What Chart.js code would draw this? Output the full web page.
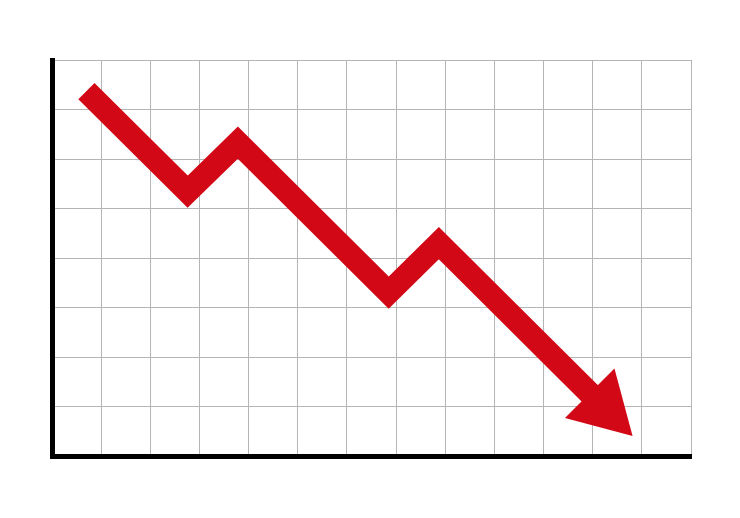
<!DOCTYPE html>
<html>
<head>
<meta charset="utf-8">
<script src="https://cdn.jsdelivr.net/npm/chart.js@4/dist/chart.umd.min.js"></script>
<style>
  html, body { margin: 0; padding: 0; background: #ffffff; }
  #c { display: block; }
</style>
</head>
<body>
<canvas id="c" width="740" height="518"></canvas>
<script>
// Data (grid units: 13 columns x 8 rows)
const xValues = [0.70, 2.76, 3.78, 6.85, 7.87, 11.23];
const yValues = [7.37, 5.34, 6.33, 3.30, 4.30, 0.98];
const xMax = 13;
const yMax = 8;

const points = xValues.map((x, i) => ({ x: x, y: yValues[i] }));
const red = '#d20816';

new Chart(document.getElementById('c'), {
  type: 'line',
  data: {
    datasets: [{
      data: points,
      borderColor: red,
      backgroundColor: red,
      borderWidth: 23,
      borderJoinStyle: 'miter',
      borderCapStyle: 'butt',
      tension: 0,
      fill: false,
      pointStyle: 'triangle',
      pointRadius: points.map((p, i) => i === points.length - 1 ? 40.4 : 0),
      pointHoverRadius: points.map((p, i) => i === points.length - 1 ? 40.4 : 0),
      pointRotation: 135,
      pointBackgroundColor: red,
      pointBorderWidth: 0,
      clip: false
    }]
  },
  options: {
    responsive: false,
    animation: false,
    events: [],
    layout: { padding: { left: 52, top: 60, right: 49, bottom: 62 } },
    plugins: { legend: { display: false }, tooltip: { enabled: false } },
    scales: {
      x: {
        type: 'linear',
        min: 0, max: xMax,
        ticks: { display: false, stepSize: 1 },
        grid: { color: '#b5b5b5', lineWidth: 1, drawTicks: false },
        border: { display: true, color: '#000000', width: 5 }
      },
      y: {
        type: 'linear',
        min: 0, max: yMax,
        ticks: { display: false, stepSize: 1 },
        grid: { color: '#b5b5b5', lineWidth: 1, drawTicks: false },
        border: { display: true, color: '#000000', width: 5 }
      }
    }
  }
});
</script>
</body>
</html>
